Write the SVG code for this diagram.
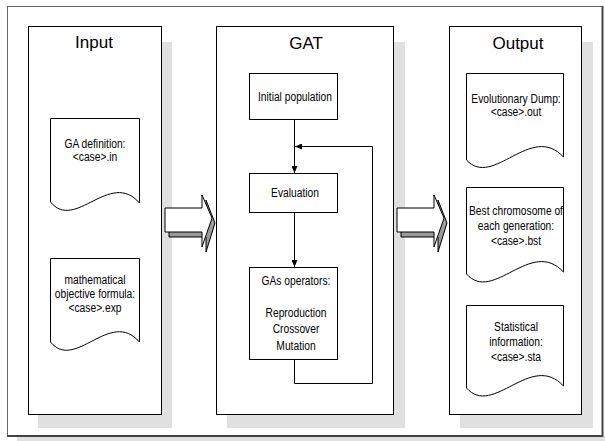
<svg xmlns="http://www.w3.org/2000/svg" width="605" height="441" viewBox="0 0 605 441">
  <style>
    .panel { fill: #ffffff; stroke: #000000; stroke-width: 1; }
    .shadow { fill: #e0e0e0; stroke: none; }
    .doc { fill: #ffffff; stroke: #000000; stroke-width: 1; }
    .box { fill: #ffffff; stroke: #000000; stroke-width: 1; }
    .title { font-family: "Liberation Sans", Arial, sans-serif; font-size: 17px; fill: #000000; text-anchor: middle; }
    /* condensed label face: regular sans squeezed horizontally */
    .lbl { font-family: "Liberation Sans", Arial, sans-serif; font-size: 12.5px; fill: #000000; text-anchor: middle; }
    .wire { fill: none; stroke: #000000; stroke-width: 1; }
  </style>
  <defs>
    <marker id="ah" viewBox="0 0 7 6" refX="7" refY="3" markerWidth="7" markerHeight="6" markerUnits="userSpaceOnUse" orient="auto">
      <path d="M0,0 L7,3 L0,6 Z" fill="#000000"/>
    </marker>
    <g id="blockArrow">
      <!-- extruded back face -->
      <path d="M169,213 H206 V200 L215,223 L206,252 V237 H169 Z" fill="#9a9a9a" stroke="#000000" stroke-width="1"/>
      <!-- front face -->
      <path d="M165,208 H202 V195 L212,218 L202,247 V232 H165 Z" fill="#ffffff" stroke="#000000" stroke-width="1"/>
    </g>
  </defs>

  <!-- outer frame -->
  <rect x="17" y="436" width="588" height="5" fill="#e0e0e0"/>
  <rect x="7.5" y="6.5" width="595" height="429" fill="#ffffff" stroke="#666666" stroke-width="1"/>
  <path d="M602.5,6 V436 H7" fill="none" stroke="#444444" stroke-width="2"/>

  <!-- Input panel -->
  <g id="input">
    <rect class="shadow" x="38" y="42" width="134" height="386"/>
    <rect class="panel" x="28.5" y="26.5" width="133" height="388"/>
    <text class="title" x="94" y="48">Input</text>
  </g>
  <g id="doc-in">
    <path class="doc" d="M50.5,118.5 H139.5 V203 C110,169 75,232 50.5,202 Z"/>
    <text class="lbl" transform="matrix(0.82,0,0,1,95,148)">GA definition:</text>
    <text class="lbl" transform="matrix(0.82,0,0,1,95,161)">&lt;case&gt;.in</text>
  </g>
  <g id="doc-exp">
    <path class="doc" d="M50.5,258.5 H139.5 V342 C110,308 75,372 50.5,342 Z"/>
    <text class="lbl" transform="matrix(0.82,0,0,1,95,284)">mathematical</text>
    <text class="lbl" transform="matrix(0.82,0,0,1,95,298)">objective formula:</text>
    <text class="lbl" transform="matrix(0.82,0,0,1,95,312)">&lt;case&gt;.exp</text>
  </g>

  <!-- GAT panel -->
  <g id="gat">
    <rect class="shadow" x="227" y="42" width="178" height="386"/>
    <rect class="panel" x="216.5" y="26.5" width="177" height="388"/>
    <text class="title" x="306" y="49">GAT</text>
  </g>
  <g id="init">
    <rect class="box" x="249.5" y="73.5" width="88" height="46"/>
    <text class="lbl" transform="matrix(0.82,0,0,1,295,101)">Initial population</text>
  </g>
  <g id="eval">
    <rect class="box" x="249.5" y="173.5" width="88" height="39"/>
    <text class="lbl" transform="matrix(0.82,0,0,1,295,197)">Evaluation</text>
  </g>
  <g id="ops">
    <rect class="box" x="249.5" y="267.5" width="88" height="92"/>
    <text class="lbl" transform="matrix(0.82,0,0,1,296,285)">GAs operators:</text>
    <text class="lbl" transform="matrix(0.82,0,0,1,296,317)">Reproduction</text>
    <text class="lbl" transform="matrix(0.82,0,0,1,296,333)">Crossover</text>
    <text class="lbl" transform="matrix(0.82,0,0,1,296,350)">Mutation</text>
  </g>

  <!-- Output panel -->
  <g id="output">
    <rect class="shadow" x="460" y="42" width="133" height="386"/>
    <rect class="panel" x="449.5" y="26.5" width="132" height="388"/>
    <text class="title" x="518" y="49">Output</text>
  </g>
  <g id="doc-out">
    <path class="doc" d="M466.5,73.5 H563.5 V157 C531,122 493,189 466.5,160 Z"/>
    <text class="lbl" transform="matrix(0.82,0,0,1,516,103)">Evolutionary Dump:</text>
    <text class="lbl" transform="matrix(0.82,0,0,1,516,116)">&lt;case&gt;.out</text>
  </g>
  <g id="doc-bst">
    <path class="doc" d="M466.5,187.5 H563.5 V272 C531,237 493,304 466.5,274 Z"/>
    <text class="lbl" transform="matrix(0.82,0,0,1,516,215)">Best chromosome of</text>
    <text class="lbl" transform="matrix(0.82,0,0,1,516,230)">each generation:</text>
    <text class="lbl" transform="matrix(0.82,0,0,1,516,245)">&lt;case&gt;.bst</text>
  </g>
  <g id="doc-sta">
    <path class="doc" d="M466.5,305.5 H563.5 V386 C531,351 493,418 466.5,388 Z"/>
    <text class="lbl" transform="matrix(0.82,0,0,1,516,331)">Statistical</text>
    <text class="lbl" transform="matrix(0.82,0,0,1,516,346)">information:</text>
    <text class="lbl" transform="matrix(0.82,0,0,1,516,361)">&lt;case&gt;.sta</text>
  </g>

  <!-- block arrows between panels -->
  <g id="arrow-in">
    <use href="#blockArrow"/>
  </g>
  <g id="arrow-out">
    <use href="#blockArrow" transform="translate(232,0)"/>
  </g>

  <!-- connectors -->
  <g id="connectors">
    <line class="wire" x1="294.5" y1="120" x2="294.5" y2="173" marker-end="url(#ah)"/>
    <line class="wire" x1="294.5" y1="213" x2="294.5" y2="267" marker-end="url(#ah)"/>
    <polyline class="wire" points="294.5,360 294.5,383.5 372.5,383.5 372.5,146.5 295,146.5" marker-end="url(#ah)"/>
  </g>
</svg>
